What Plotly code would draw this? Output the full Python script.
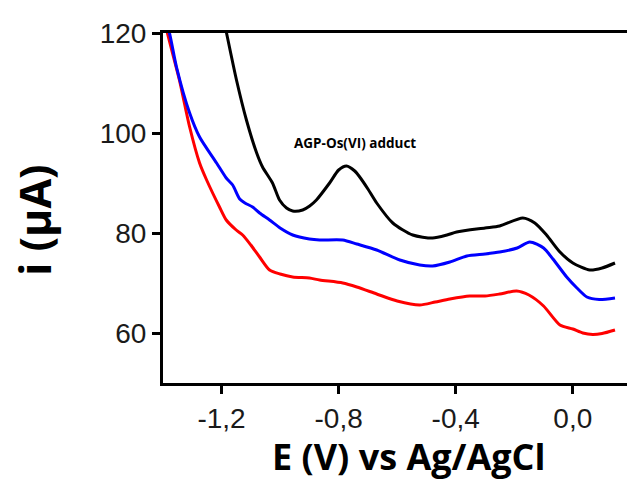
import plotly.graph_objects as go

# ---- data ----
red_E = [-1.392, -1.385, -1.344, -1.309, -1.275, -1.251, -1.207, -1.184, -1.150, -1.128,
         -1.100, -1.070, -1.036, -1.000, -0.957, -0.900, -0.865, -0.786, -0.738, -0.670,
         -0.600, -0.523, -0.470, -0.420, -0.352, -0.300, -0.250, -0.192, -0.150, -0.100,
         -0.044, 0.000, 0.034, 0.068, 0.100, 0.144]
red_i = [122.0, 120.0, 110.6, 101.2, 94.0, 90.6, 85.2, 82.6, 80.6, 79.6,
         77.6, 75.2, 72.6, 71.8, 71.2, 71.0, 70.6, 70.0, 69.2, 67.8,
         66.4, 65.6, 66.2, 66.8, 67.4, 67.4, 67.8, 68.4, 67.6, 65.4,
         61.6, 60.8, 60.0, 59.7, 59.9, 60.6]

blue_E = [-1.390, -1.378, -1.354, -1.309, -1.275, -1.217, -1.184, -1.162, -1.138, -1.120,
          -1.094, -1.070, -1.036, -1.000, -0.957, -0.900, -0.865, -0.786, -0.738, -0.670,
          -0.591, -0.523, -0.479, -0.420, -0.362, -0.300, -0.250, -0.190, -0.147, -0.100,
          -0.068, -0.021, 0.014, 0.048, 0.090, 0.144]
blue_i = [122.0, 120.0, 113.2, 104.0, 99.2, 94.0, 91.0, 89.6, 86.8, 86.0,
          85.2, 84.0, 82.6, 81.0, 79.6, 78.8, 78.6, 78.6, 77.8, 76.6,
          74.6, 73.6, 73.4, 74.2, 75.4, 75.8, 76.2, 77.0, 78.2, 77.0,
          74.8, 71.2, 69.0, 67.2, 66.7, 67.0]

black_E = [-1.190, -1.183, -1.149, -1.115, -1.080, -1.060, -1.026, -1.002, -0.978, -0.957,
           -0.923, -0.899, -0.876, -0.831, -0.800, -0.773, -0.745, -0.728, -0.700, -0.670,
           -0.615, -0.547, -0.479, -0.430, -0.397, -0.300, -0.250, -0.171, -0.130, -0.090,
           -0.044, 0.000, 0.058, 0.100, 0.144]
black_i = [122.0, 120.0, 110.6, 102.6, 96.0, 93.2, 90.0, 86.6, 85.0, 84.4,
           84.6, 85.4, 86.6, 90.0, 92.6, 93.4, 92.4, 91.2, 88.8, 86.0,
           82.0, 79.6, 79.0, 79.6, 80.2, 81.0, 81.4, 83.0, 82.0, 79.6,
           76.2, 74.0, 72.6, 73.0, 74.0]

x_tickvals = [-1.2, -0.8, -0.4, 0.0]
x_ticktext = ["-1,2", "-0,8", "-0,4", "0,0"]
y_tickvals = [60, 80, 100, 120]
y_ticktext = ["60", "80", "100", "120"]

x_title = "E (V) vs Ag/AgCl"
y_title = "i (μA)"
peak_label = "AGP-Os(VI) adduct"

fig = go.Figure()
for E, i, c in [(red_E, red_i, "#ff0000"), (blue_E, blue_i, "#0000ff"), (black_E, black_i, "#000000")]:
    fig.add_trace(go.Scatter(x=E, y=i, mode="lines",
                             line=dict(color=c, width=3, shape="spline", smoothing=0.7),
                             showlegend=False))

tickfont = dict(family="Liberation Sans, Arial", size=28, color="#1a1a1a")
fig.update_layout(
    width=627, height=483,
    margin=dict(l=163, r=0, t=33, b=100),
    paper_bgcolor="white", plot_bgcolor="white",
    xaxis=dict(range=[-1.40, 0.185], tickvals=x_tickvals, ticktext=x_ticktext,
               showgrid=False, zeroline=False, showline=True, linecolor="black",
               linewidth=3, mirror=True, ticks="outside", ticklen=8, tickwidth=3,
               tickcolor="black", tickfont=tickfont),
    yaxis=dict(range=[50, 120], tickvals=y_tickvals, ticktext=y_ticktext,
               showgrid=False, zeroline=False, showline=True, linecolor="black",
               linewidth=3, ticks="outside", ticklen=8, tickwidth=3, tickcolor="black",
               tickfont=tickfont),
    annotations=[
        dict(text=x_title, xref="paper", yref="paper", x=0.530, y=-0.209,
             xanchor="center", yanchor="middle", showarrow=False,
             font=dict(family="Open Sans", size=36, color="black", weight="bold")),
        dict(text=y_title, xref="paper", yref="paper", x=-0.276, y=0.466,
             xanchor="center", yanchor="middle", showarrow=False, textangle=-90,
             font=dict(family="Open Sans", size=43, color="black", weight="bold")),
        dict(text=peak_label, xref="paper", yref="paper", x=(355 - 163) / 464, y=(383 - 143) / 350,
             xanchor="center", yanchor="middle", showarrow=False,
             font=dict(family="Open Sans", size=13.5, color="black", weight="bold")),
    ],
)

fig.write_html("out.html")
